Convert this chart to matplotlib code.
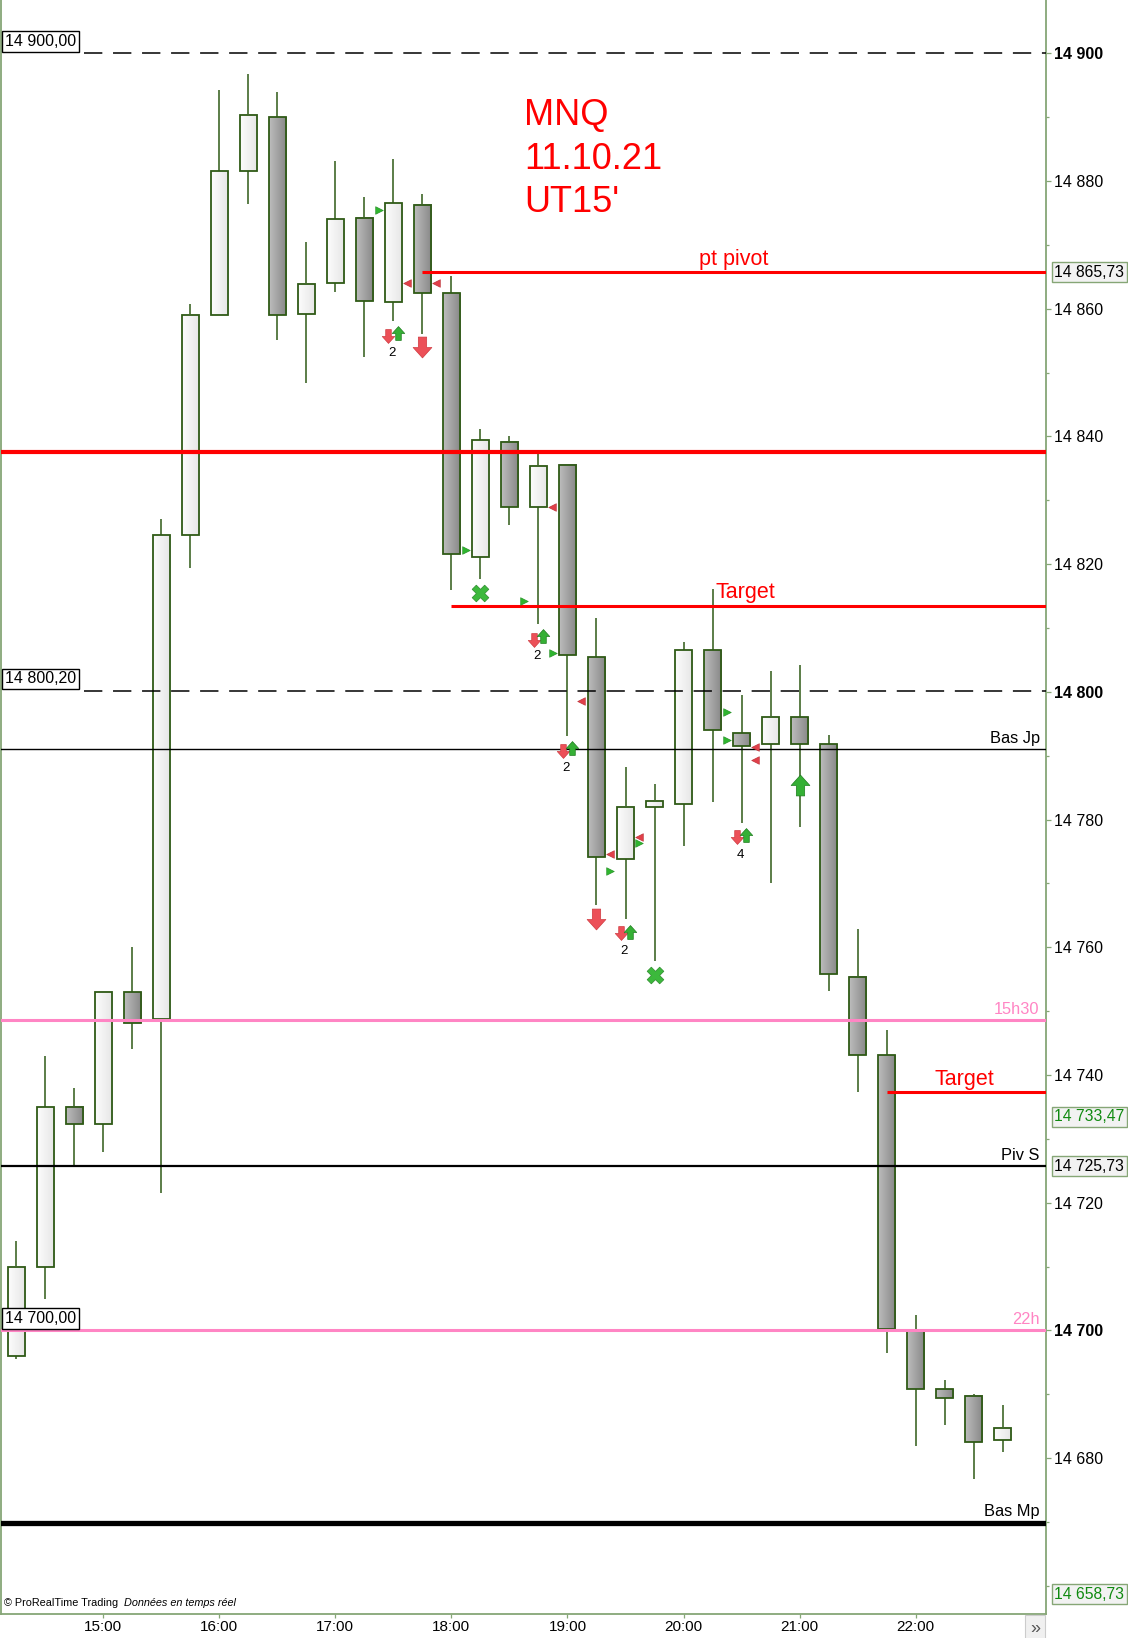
#!/usr/bin/env python3
"""MNQ 15-minute candles, 11.10.21, with pivot / target levels."""

import numpy as np
import matplotlib
matplotlib.use("Agg")
import matplotlib.pyplot as plt
from matplotlib.patches import Rectangle
from matplotlib.path import Path
from matplotlib.ticker import FixedLocator, MultipleLocator

plt.rcParams["font.family"] = ["Liberation Sans", "DejaVu Sans"]

# --- candle data (one bar per 15 minutes, first bar 14:15) ---
opens = [14696, 14710, 14735, 14732.3, 14753, 14748.8, 14824.5, 14859, 14881.5, 14890,
         14859.1, 14864, 14874.2, 14861, 14876.2, 14862.4, 14821.2, 14839.2, 14828.9, 14835.5,
         14805.4, 14773.8, 14781.9, 14782.5, 14806.5, 14793.5, 14791.8, 14796.1, 14791.8, 14755.4,
         14743.1, 14699.9, 14690.8, 14689.8, 14682.8]
highs = [14714, 14743, 14738, 14753, 14760, 14827, 14860.7, 14894.3, 14896.8, 14893.9,
         14870.4, 14883.1, 14877.5, 14883.4, 14878, 14865.2, 14841.1, 14840, 14837.2, 14835.5,
         14811.6, 14788.2, 14785.6, 14807.8, 14816.1, 14799.5, 14803.3, 14804.2, 14793.2, 14762.9,
         14747, 14702.5, 14692.2, 14690.1, 14688.3]
lows = [14695.5, 14705, 14725.8, 14728, 14744, 14721.5, 14819.4, 14859, 14876.4, 14855.1,
        14848.4, 14862.7, 14852.5, 14858.1, 14856.1, 14816, 14817.7, 14826.2, 14810.7, 14793.1,
        14766.7, 14764.5, 14757.9, 14775.9, 14782.8, 14779.5, 14770.1, 14778.9, 14753.2, 14737.4,
        14696.5, 14681.9, 14685.2, 14676.8, 14681]
closes = [14710, 14735, 14732.3, 14753, 14748.2, 14824.5, 14859, 14881.5, 14890.4, 14859,
          14863.8, 14874, 14861.2, 14876.5, 14862.4, 14821.6, 14839.5, 14828.9, 14835.4, 14805.7,
          14774.2, 14782, 14782.9, 14806.5, 14794, 14791.5, 14796.1, 14791.9, 14755.8, 14743.1,
          14700.2, 14690.8, 14689.5, 14682.5, 14684.8]

time_ticks = [3, 7, 11, 15, 19, 23, 27, 31]
time_labels = ["15:00", "16:00", "17:00", "18:00", "19:00", "20:00", "21:00", "22:00"]

# --- horizontal levels ---
red_level = 14837.6
pivot_level = 14865.73
target1_level = 14813.5
target2_level = 14737.3
bas_jp = 14791.0
h1530 = 14748.55
piv_s = 14725.73
h22 = 14700.0
bas_mp = 14669.9
dashed_levels = [14900.0, 14800.2]
left_boxes = [(14900.0, "14 900,00"), (14800.2, "14 800,20"), (14700.0, "14 700,00")]
right_boxes = [(14865.73, "14 865,73", "black"), (14733.47, "14 733,47", "#108a10"),
               (14725.73, "14 725,73", "black"), (14658.73, "14 658,73", "#108a10")]

# --- signal markers (bar index, price) ---
small_dn_x = [12.83, 17.83, 18.83, 20.83, 24.83]
small_dn_y = [14855.7, 14808.2, 14790.8, 14762.2, 14777.2]
small_up_x = [13.15, 18.15, 19.15, 21.15, 25.15]
small_up_y = [14856.2, 14808.7, 14791.2, 14762.4, 14777.6]
count_x = [12.97, 17.96, 18.96, 20.96, 24.96]
count_y = [14853.1, 14805.6, 14788.1, 14759.4, 14774.4]
count_txt = ["2", "2", "2", "2", "4"]
big_dn_x = [14, 20]
big_dn_y = [14854.0, 14764.5]
big_up_x = [27]
big_up_y = [14785.4]
cross_x = [16, 22]
cross_y = [14815.5, 14755.6]
tri_r_x = [12.5, 15.5, 17.5, 18.5, 24.5, 24.5, 21.47, 20.47]
tri_r_y = [14875.4, 14822.2, 14814.2, 14806.1, 14796.9, 14792.4, 14776.4, 14772.0]
tri_l_x = [13.47, 14.47, 18.47, 19.47, 25.47, 25.47, 21.47, 20.47]
tri_l_y = [14864.0, 14864.0, 14828.9, 14798.6, 14791.3, 14789.4, 14777.3, 14774.6]

EDGE = "#2f5a16"
SPINE = "#86a676"
RED = "#ff0000"
PINK = "#ff85c4"

UP_GRAD = np.linspace([0.99, 0.99, 0.99], [0.90, 0.90, 0.90], 32)[None, :, :]
DN_GRAD = np.linspace([0.74, 0.74, 0.74], [0.53, 0.53, 0.53], 32)[None, :, :]


def arrow_marker(up: bool) -> Path:
    """Block arrow marker."""
    v = np.array([(-0.2, -0.5), (0.2, -0.5), (0.2, 0.0), (0.45, 0.0), (0.0, 0.5),
                  (-0.45, 0.0), (-0.2, 0.0), (-0.2, -0.5)])
    if not up:
        v[:, 1] *= -1
    return Path(v, closed=True)


def plot(ax: plt.Axes) -> None:
    """Draw candles, levels and annotations."""
    w = 0.59
    for k, (o, h, l, c) in enumerate(zip(opens, highs, lows, closes)):
        top, bot = max(o, c), min(o, c)
        ax.vlines(k, l, h, color=EDGE, lw=1.1, zorder=2)
        grad = UP_GRAD if c >= o else DN_GRAD
        ax.imshow(grad, extent=(k - w / 2, k + w / 2, bot, top), aspect="auto",
                  interpolation="bilinear", zorder=3)
        ax.add_patch(Rectangle((k - w / 2, bot), w, top - bot, fill=False,
                               ec=EDGE, lw=1.3, zorder=4))

    # levels
    for lvl in dashed_levels:
        ax.axhline(lvl, xmin=0.079, color="black", lw=1.1, dashes=(12, 7), zorder=5)
    ax.axhline(red_level, color=RED, lw=3.0, zorder=5)
    ax.hlines(pivot_level, 14, 36, color=RED, lw=2.2, zorder=5)
    ax.hlines(target1_level, 15, 36, color=RED, lw=2.2, zorder=5)
    ax.hlines(target2_level, 30, 36, color=RED, lw=2.2, zorder=5)
    ax.axhline(bas_jp, color="black", lw=1.0, zorder=5)
    ax.axhline(h1530, color=PINK, lw=2.2, zorder=5)
    ax.axhline(piv_s, color="black", lw=1.6, zorder=5)
    ax.axhline(h22, color=PINK, lw=2.2, zorder=5)
    ax.axhline(bas_mp, color="black", lw=3.8, zorder=5)

    ax.set_xlim(-0.52, 35.49)
    ax.set_ylim(14655.6, 14908.35)

    bt = ax.get_yaxis_transform()
    ax.text(0.7014, pivot_level + 0.4, "pt pivot", color=RED, fontsize=15.5,
            ha="center", va="bottom", transform=bt)
    ax.text(0.684, target1_level + 0.4, "Target", color=RED, fontsize=15.5,
            ha="left", va="bottom", transform=bt)
    ax.text(0.893, target2_level + 0.4, "Target", color=RED, fontsize=15.5,
            ha="left", va="bottom", transform=bt)
    for lvl, txt, col in [(bas_jp, "Bas Jp", "black"), (h1530, "15h30", PINK),
                          (piv_s, "Piv S", "black"), (h22, "22h", PINK),
                          (bas_mp, "Bas Mp", "black")]:
        ax.text(0.994, lvl + 0.5, txt, color=col, fontsize=11.8,
                ha="right", va="bottom", transform=bt)

    # title
    for yy, line in zip([0.9226, 0.8953, 0.8686], ["MNQ", "11.10.21", "UT15'"]):
        ax.text(0.5005, yy, line, color=RED, fontsize=26, ha="left",
                va="baseline", transform=ax.transAxes)

    # left boxed values
    for lvl, txt in left_boxes:
        ax.annotate(txt, xy=(0.0, lvl), xycoords=bt, xytext=(3, 3),
                    textcoords="offset points", fontsize=11.5, ha="left", va="bottom",
                    bbox=dict(boxstyle="square,pad=0.18", fc="white", ec="black", lw=1),
                    zorder=7)
    # right boxed values
    for lvl, txt, col in right_boxes:
        ax.annotate(txt, xy=(1.0, lvl), xycoords=bt, xytext=(6.0, 0),
                    textcoords="offset points", fontsize=11.3, color=col,
                    ha="left", va="center", annotation_clip=False,
                    bbox=dict(boxstyle="square,pad=0.15", fc="#f2f2f2", ec=SPINE, lw=1))

    # signals
    up_m = arrow_marker(True)
    dn_m = arrow_marker(False)
    ax.scatter(small_dn_x, small_dn_y, marker=dn_m, s=10 ** 2, c="#ec5058",
               edgecolors="#d03a40", linewidths=0.5, zorder=6)
    ax.scatter(small_up_x, small_up_y, marker=up_m, s=10 ** 2, c="#35b035",
               edgecolors="#1e7d1e", linewidths=0.5, zorder=6)
    ax.scatter(big_dn_x, big_dn_y, marker=dn_m, s=15 ** 2, c="#ec5058",
               edgecolors="#d03a40", linewidths=0.5, zorder=6)
    ax.scatter(big_up_x, big_up_y, marker=up_m, s=15 ** 2, c="#35b035",
               edgecolors="#1e7d1e", linewidths=0.5, zorder=6)
    ax.scatter(cross_x, cross_y, marker="X", s=12 ** 2, c="#3cb93c",
               edgecolors="#2a8a2a", linewidths=0.5, zorder=6)
    ax.scatter(tri_r_x, tri_r_y, marker=">", s=5.5 ** 2, c="#2fb52f",
               edgecolors="#1e8a1e", linewidths=0.4, zorder=6)
    ax.scatter(tri_l_x, tri_l_y, marker="<", s=5.5 ** 2, c="#e0404a",
               edgecolors="#b82a30", linewidths=0.4, zorder=6)
    for x, y, t in zip(count_x, count_y, count_txt):
        ax.text(x, y, t, fontsize=9.5, ha="center", va="center", zorder=6)

    # axes styling
    for side in ("left", "right", "bottom"):
        ax.spines[side].set_color(SPINE)
        ax.spines[side].set_linewidth(1.3)
    ax.spines["top"].set_visible(False)

    ax.yaxis.tick_right()
    yt = [14680, 14700, 14720, 14740, 14760, 14780, 14800, 14820, 14840, 14860, 14880, 14900]
    ax.yaxis.set_major_locator(FixedLocator(yt))
    ax.set_yticklabels([f"{v // 1000} {v % 1000:03d}" for v in yt])
    for lab, v in zip(ax.get_yticklabels(), yt):
        if v % 100 == 0:
            lab.set_fontweight("bold")
    ax.yaxis.set_minor_locator(MultipleLocator(10))
    ax.tick_params(axis="y", which="major", length=3.3, width=0.9, color=SPINE,
                   pad=2.2, labelsize=11.5)
    ax.tick_params(axis="y", which="minor", length=2.5, width=0.9, color=SPINE)

    ax.set_xticks(time_ticks)
    ax.set_xticklabels(time_labels)
    ax.tick_params(axis="x", length=3, width=0.9, color=SPINE, pad=1.5, labelsize=11)

    ax.text(0.0025, 0.004, "\u00a9 ProRealTime Trading", fontsize=7.8,
            transform=ax.transAxes, ha="left", va="bottom")
    ax.text(0.1175, 0.004, "Donn\u00e9es en temps r\u00e9el", fontsize=7.8,
            style="italic", transform=ax.transAxes, ha="left", va="bottom")


def main() -> None:
    """Build figure and save."""
    fig = plt.figure(figsize=(11.28, 16.38), dpi=100)
    ax = fig.add_axes([1 / 1128, 24 / 1638, 1045 / 1128, 1614 / 1638])
    plot(ax)
    fig.text(1035 / 1128, 10 / 1638, "\u00bb", fontsize=13, ha="center", va="center",
             color="#555555",
             bbox=dict(boxstyle="square,pad=0.25", fc="#f0f0f0", ec="#cccccc", lw=0.8))
    fig.savefig("out.png", dpi=100)


if __name__ == "__main__":
    main()
